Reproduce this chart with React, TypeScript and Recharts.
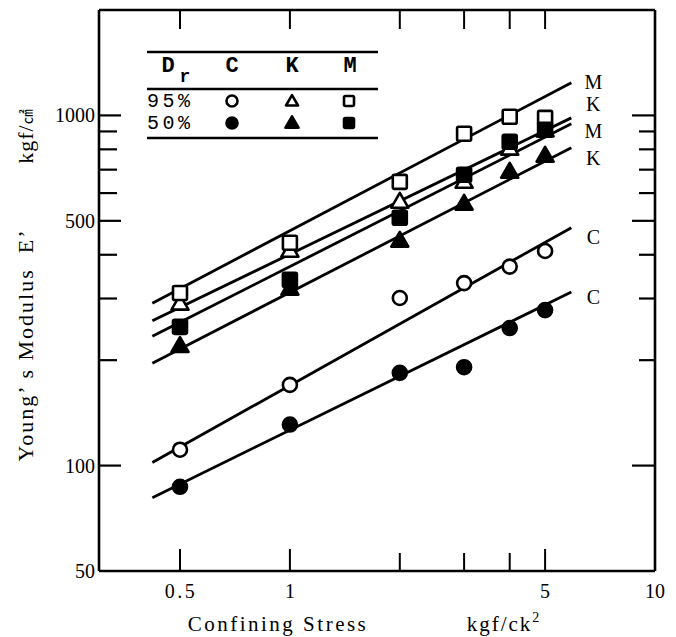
import { ComposedChart, XAxis, YAxis, Line, Scatter, Legend } from "recharts";

// confining stress of the tests (kgf/cm2)
const stress = [0.5, 1, 2, 3, 4, 5];

// Young's modulus E' (kgf/cm2)
const c95 = [111, 170, 301, 332, 370, 410];
const c50 = [87, 131, 184, 191, 247, 278];
const k95 = [288, 408, 563, 642, 798, 900];
const k50 = [218, 318, 436, 556, 686, 762];
const m95 = [311, 433, 646, 886, 991, 984];
const m50 = [249, 339, 510, 677, 841, 910];

// fitted lines: end points in stress, modulus at each end
const fitStress = [0.42, 5.9];
const fitC95 = [102, 478];
const fitC50 = [81, 313];
const fitK95 = [259, 984];
const fitK50 = [196, 809];
const fitM95 = [291, 1240];
const fitM50 = [234, 946];

const xTicks = [0.5, 1, 2, 3, 4, 5, 10];
const xTickLabels: Record<number, string> = { 0.5: "0.5", 1: "1", 5: "5", 10: "10" };
const yTicks = [50, 100, 200, 300, 400, 500, 600, 700, 800, 900, 1000];
const yTickLabels: Record<number, string> = { 50: "50", 100: "100", 500: "500", 1000: "1000" };

const serif = "'Liberation Serif', 'DejaVu Serif', serif";
const mono = "'Liberation Mono', 'DejaVu Sans Mono', monospace";

const toPoints = (xs: number[], ys: number[]) => xs.map((x, i) => ({ x, y: ys[i] }));

function Marker({ cx, cy, kind, filled, size }: any) {
  const fill = filled ? "#000" : "#fff";
  const sw = 2.6;
  if (kind === "circle") {
    return <circle cx={cx} cy={cy} r={size / 2 - 1} fill={fill} stroke="#000" strokeWidth={sw} />;
  }
  if (kind === "square") {
    const s = size - 2;
    return <rect x={cx - s / 2} y={cy - s / 2} width={s} height={s} rx={1.5} fill={fill} stroke="#000" strokeWidth={sw} />;
  }
  const s = size;
  const h = s * 0.87;
  const pts = `${cx},${cy - (h * 2) / 3} ${cx - s / 2},${cy + h / 3} ${cx + s / 2},${cy + h / 3}`;
  return <polygon points={pts} fill={fill} stroke="#000" strokeWidth={sw} strokeLinejoin="round" />;
}

const series = [
  { key: "c95", fit: fitC95, pts: c95, kind: "circle", filled: false, tag: "C", dy: 9 },
  { key: "c50", fit: fitC50, pts: c50, kind: "circle", filled: true, tag: "C", dy: 5 },
  { key: "k95", fit: fitK95, pts: k95, kind: "triangle", filled: false, tag: "K", dy: -14 },
  { key: "m95", fit: fitM95, pts: m95, kind: "square", filled: false, tag: "M", dy: -1 },
  { key: "k50", fit: fitK50, pts: k50, kind: "triangle", filled: true, tag: "K", dy: 10 },
  { key: "m50", fit: fitM50, pts: m50, kind: "square", filled: true, tag: "M", dy: 7 },
];

const BottomTick = ({ x, y, payload }: any) => {
  const v = payload.value;
  const len = v === 10 ? 0 : [0.5, 1, 5].includes(v) ? 22 : 18;
  return (
    <g>
      {len > 0 && <line x1={x} x2={x} y1={y} y2={y - len} stroke="#000" strokeWidth={2} />}
      {xTickLabels[v] && (
        <text x={x + (v === 0.5 ? 1 : 0)} y={y + 20} textAnchor="middle" dominantBaseline="central" fontFamily={serif} fontSize={20} letterSpacing={v === 0.5 ? 2.5 : 0} fill="#000">
          {xTickLabels[v]}
        </text>
      )}
    </g>
  );
};

const TopTick = ({ x, y, payload }: any) => {
  if (payload.value === 10) return <g />;
  return <line x1={x} x2={x} y1={y} y2={y + 19} stroke="#000" strokeWidth={2} />;
};

const LeftTick = ({ x, y, payload }: any) => {
  const v = payload.value;
  const len = v === 50 ? 0 : yTickLabels[v] ? 22 : 18;
  return (
    <g>
      {len > 0 && <line x1={x} x2={x + len} y1={y} y2={y} stroke="#000" strokeWidth={2.2} />}
      {yTickLabels[v] && (
        <text x={x - 4} y={y} textAnchor="end" dominantBaseline="central" fontFamily={serif} fontSize={20} fill="#000">
          {yTickLabels[v]}
        </text>
      )}
    </g>
  );
};

const RightTick = ({ x, y, payload }: any) => {
  const v = payload.value;
  if (v === 50) return <g />;
  const len = yTickLabels[v] ? 23 : 16;
  return <line x1={x} x2={x - len} y1={y} y2={y} stroke="#000" strokeWidth={2.2} />;
};

const XLabel = () => (
  <g fontFamily={serif} fontSize={21} fill="#000">
    <text x={278} y={624} textAnchor="middle" dominantBaseline="central" letterSpacing={2.5}>Confining Stress</text>
    <text x={504} y={624} textAnchor="middle" dominantBaseline="central" letterSpacing={2}>
      kgf/ck<tspan dy={-7} fontSize={14}>2</tspan>
    </text>
  </g>
);

const YLabel = () => (
  <g fontFamily={serif} fontSize={22} fill="#000">
    <text x={0} y={0} transform="translate(25,345) rotate(-90)" textAnchor="middle" dominantBaseline="central" letterSpacing={2} style={{ whiteSpace: "pre" }}>
      {"Young’ s Modulus  E’"}
    </text>
    <text x={0} y={0} transform="translate(25,136) rotate(-90)" textAnchor="middle" dominantBaseline="central" letterSpacing={1}>
      kgf/<tspan fontFamily="'Noto Sans CJK JP', sans-serif" fontSize={15}>㎠</tspan>
    </text>
  </g>
);

const LegendTable = () => (
  <svg width={250} height={110} style={{ display: "block" }}>
    <g stroke="#000" strokeWidth={2.4}>
      <line x1={7} x2={238} y1={12} y2={12} />
      <line x1={7} x2={238} y1={49} y2={49} />
      <line x1={7} x2={238} y1={98} y2={98} />
    </g>
    <g fontFamily={mono} fontWeight="bold" fontSize={22} fill="#000" textAnchor="middle" dominantBaseline="central">
      <text x={28} y={26}>D</text>
      <text x={45} y={37} fontSize={18}>r</text>
      <text x={92} y={26}>C</text>
      <text x={152} y={26}>K</text>
      <text x={210} y={26}>M</text>
    </g>
    <g fontFamily={mono} fontSize={20} fill="#000" dominantBaseline="central" letterSpacing={3.5}>
      <text x={7} y={61}>95%</text>
      <text x={7} y={83}>50%</text>
    </g>
    <Marker cx={92} cy={61} kind="circle" filled={false} size={13} />
    <Marker cx={152} cy={62} kind="triangle" filled={false} size={12} />
    <Marker cx={209} cy={61} kind="square" filled={false} size={12} />
    <Marker cx={92} cy={83} kind="circle" filled={true} size={13} />
    <Marker cx={152} cy={84} kind="triangle" filled={true} size={13} />
    <Marker cx={209} cy={83} kind="square" filled={true} size={12} />
  </svg>
);

const endLabel = (tag: string, dy: number) => (props: any) => {
  if (props.index !== 1) return <g key={props.index} />;
  return (
    <text key={props.index} x={props.x + 22} y={props.y + dy} textAnchor="middle" dominantBaseline="central" fontFamily={serif} fontSize={20} fill="#000">
      {tag}
    </text>
  );
};

export default function App() {
  const axisLine = { stroke: "#000", strokeWidth: 2.6 };
  return (
    <div style={{ position: "absolute", left: 0, top: 0, background: "#fff" }}>
      <ComposedChart width={676} height={637} margin={{ top: 5, right: 11, bottom: 36, left: 39 }}>
        <XAxis
          xAxisId="bottom"
          dataKey="x"
          type="number"
          scale="log"
          domain={[0.3, 10]}
          allowDataOverflow
          ticks={xTicks}
          interval={0}
          tickSize={0}
          tickMargin={0}
          tickLine={false}
          tick={BottomTick}
          axisLine={axisLine}
          height={30}
          label={{ content: XLabel }}
        />
        <XAxis
          xAxisId="top"
          orientation="top"
          dataKey="x"
          type="number"
          scale="log"
          domain={[0.3, 10]}
          allowDataOverflow
          ticks={xTicks}
          interval={0}
          tickSize={0}
          tickMargin={0}
          tickLine={false}
          tick={TopTick}
          axisLine={axisLine}
          height={5}
        />
        <YAxis
          yAxisId="left"
          dataKey="y"
          type="number"
          scale="log"
          domain={[50, 2000]}
          allowDataOverflow
          ticks={yTicks}
          interval={0}
          tickSize={0}
          tickMargin={0}
          tickLine={false}
          tick={LeftTick}
          axisLine={axisLine}
          width={60}
          label={{ content: YLabel }}
        />
        <YAxis
          yAxisId="right"
          orientation="right"
          dataKey="y"
          type="number"
          scale="log"
          domain={[50, 2000]}
          allowDataOverflow
          ticks={yTicks}
          interval={0}
          tickSize={0}
          tickMargin={0}
          tickLine={false}
          tick={RightTick}
          axisLine={axisLine}
          width={10}
        />
        <Legend
          layout="vertical"
          align="center"
          verticalAlign="middle"
          wrapperStyle={{ left: 140, top: 40, width: 250, height: 110 }}
          content={() => <LegendTable />}
        />
        {series.map((s) => (
          <Line
            key={"fit-" + s.key}
            xAxisId="bottom"
            yAxisId="left"
            data={toPoints(fitStress, s.fit)}
            dataKey="y"
            stroke="#000"
            strokeWidth={2.8}
            dot={false}
            activeDot={false}
            isAnimationActive={false}
            label={endLabel(s.tag, s.dy)}
          />
        ))}
        {series.map((s) => (
          <Scatter
            key={"pts-" + s.key}
            xAxisId="bottom"
            yAxisId="left"
            data={toPoints(stress, s.pts)}
            dataKey="y"
            isAnimationActive={false}
            shape={(p: any) => (
              <Marker cx={p.cx} cy={p.cy} kind={s.kind} filled={s.filled} size={s.kind === "triangle" ? 17 : 16} />
            )}
          />
        ))}
      </ComposedChart>
    </div>
  );
}
